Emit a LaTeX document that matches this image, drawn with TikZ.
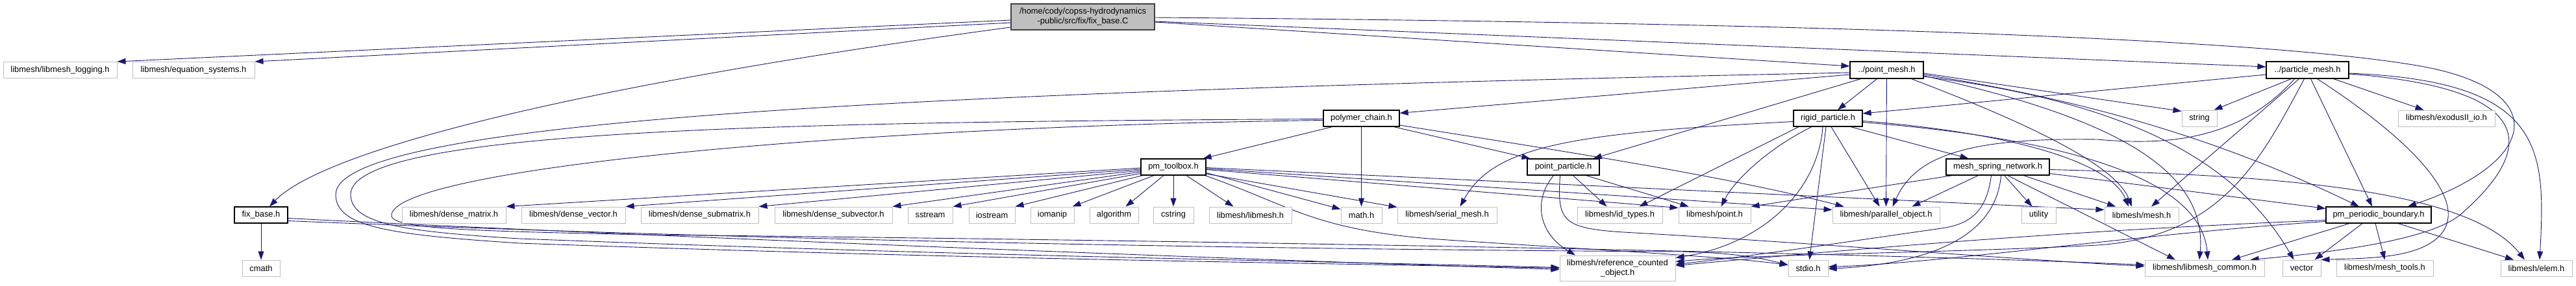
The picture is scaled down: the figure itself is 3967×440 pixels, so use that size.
\documentclass[tikz,border=0pt]{standalone}
\usepackage{fontspec}
\setmainfont{Liberation Sans}
\usetikzlibrary{arrows.meta}
\pgfdeclarelayer{bg}
\pgfsetlayers{bg,main}
\definecolor{edgec}{HTML}{191970}
\definecolor{leafc}{HTML}{BFBFBF}
\definecolor{mainfill}{HTML}{BFBFBF}
\definecolor{mainborder}{HTML}{404040}
\begin{document}
\begin{tikzpicture}[x=1pt,y=-1pt,
  box/.style={rectangle, inner sep=0pt, minimum height=25pt, font=\fontsize{12.9}{15}\selectfont, fill=white, align=center},
  leaf/.style={box, draw=leafc, line width=1pt},
  inner/.style={box, draw=black, line width=1.2pt},
  root/.style={box, draw=mainborder, fill=mainfill, line width=1.3pt, minimum height=40pt},
  e/.style={draw=edgec, line width=0.9pt, -{Triangle[length=13pt,width=9pt]}}]
\useasboundingbox (0,0) rectangle (3967,440);
\begin{pgfonlayer}{bg}
\fill[white] (0,0) rectangle (3967,440);
\end{pgfonlayer}
% nodes
\node[root, minimum width=221pt] (main) at (1667.5,26) {/home/cody/copss-hydrodynamics\\-public/src/fix/fix\_base.C};
\node[leaf, minimum width=175pt] (logging) at (92.5,108) {libmesh/libmesh\_logging.h};
\node[leaf, minimum width=188pt] (eqsys) at (298,108) {libmesh/equation\_systems.h};
\node[inner, minimum width=82pt] (fixbase) at (402,331.5) {fix\_base.h};
\node[leaf, minimum width=58pt] (cmath) at (402,413.5) {cmath};
\node[leaf, minimum width=160pt] (dmatrix) at (699,331.5) {libmesh/dense\_matrix.h};
\node[leaf, minimum width=160pt] (dvector) at (883,331.5) {libmesh/dense\_vector.h};
\node[leaf, minimum width=181pt] (dsubmatrix) at (1077.5,331.5) {libmesh/dense\_submatrix.h};
\node[leaf, minimum width=181pt] (dsubvector) at (1283.5,331.5) {libmesh/dense\_subvector.h};
\node[leaf, minimum width=69pt] (sstream) at (1432.5,331.5) {sstream};
\node[leaf, minimum width=71pt] (iostream) at (1527.5,331.5) {iostream};
\node[leaf, minimum width=67pt] (iomanip) at (1620.5,331.5) {iomanip};
\node[leaf, minimum width=75pt] (algorithm) at (1715.5,331.5) {algorithm};
\node[leaf, minimum width=62pt] (cstring) at (1807,331.5) {cstring};
\node[leaf, minimum width=127pt] (libmeshh) at (1925.5,331.5) {libmesh/libmesh.h};
\node[inner, minimum width=100pt] (pmtoolbox) at (1807,257.5) {pm\_toolbox.h};
\node[inner, minimum width=117pt] (polymer) at (2096.5,182.5) {polymer\_chain.h};
\node[inner, minimum width=111pt] (pointparticle) at (2407.5,257.5) {point\_particle.h};
\node[leaf, minimum width=63pt] (mathh) at (2096.5,331.5) {math.h};
\node[leaf, minimum width=153pt] (serialmesh) at (2228.5,331.5) {libmesh/serial\_mesh.h};
\node[leaf, minimum width=131pt] (idtypes) at (2494.5,331.5) {libmesh/id\_types.h};
\node[leaf, minimum width=178pt, minimum height=39pt] (refcounted) at (2491,413.5) {libmesh/reference\_counted\\\_object.h};
\node[inner, minimum width=113pt, minimum height=26pt] (pointmesh) at (2905.5,108) {../point\_mesh.h};
\node[inner, minimum width=106pt] (rigid) at (2815,182.5) {rigid\_particle.h};
\node[leaf, minimum width=111pt] (pointh) at (2640.5,331.5) {libmesh/point.h};
\node[leaf, minimum width=165pt] (parallel) at (2904.5,331.5) {libmesh/parallel\_object.h};
\node[leaf, minimum width=61pt] (stdio) at (2784.5,413.5) {stdio.h};
\node[inner, minimum width=159pt] (msn) at (3076.5,257.5) {mesh\_spring\_network.h};
\node[leaf, minimum width=54pt] (string) at (3387,182.5) {string};
\node[leaf, minimum width=53pt] (utility) at (3139.5,331.5) {utility};
\node[leaf, minimum width=114pt] (meshh) at (3298,331.5) {libmesh/mesh.h};
\node[leaf, minimum width=184pt] (common) at (3395,413.5) {libmesh/libmesh\_common.h};
\node[inner, minimum width=127pt, minimum height=26pt] (particlemesh) at (3553.5,108) {../particle\_mesh.h};
\node[leaf, minimum width=149pt] (exodus) at (3767.5,182.5) {libmesh/exodusII\_io.h};
\node[inner, minimum width=162pt] (pmpb) at (3663,331.5) {pm\_periodic\_boundary.h};
\node[leaf, minimum width=59pt] (vector) at (3544.5,413.5) {vector};
\node[leaf, minimum width=149pt] (meshtools) at (3672.5,413.5) {libmesh/mesh\_tools.h};
\node[leaf, minimum width=110pt] (elem) at (3906,413.5) {libmesh/elem.h};
% edges
\begin{pgfonlayer}{bg}
% main
\draw[e] ([yshift=-5pt]main.west) -- (logging.north east);
\draw[e] ([yshift=-9pt]main.west) -- (eqsys.north east);
\draw[e] ([yshift=-16pt]main.west) .. controls (900,130) and (500,230) .. ([xshift=13pt]fixbase.north);
\draw[e] ([yshift=-8pt]main.east) -- ([yshift=6pt]pointmesh.west);
\draw[e] ([yshift=-7pt]main.east) -- ([yshift=5pt]particlemesh.west);
\draw[e] ([yshift=-1pt]main.east) .. controls (2800,35) and (3500,60) .. (3733,103) .. controls (3930,140) and (3910,250) .. ([xshift=45pt]pmpb.north);
% fix_base
\draw[e] (fixbase) -- (cmath);
\draw[e] ([yshift=-5pt]fixbase.east) .. controls (700,350) and (1600,390) .. ([yshift=-2pt]refcounted.west);
\draw[e] ([yshift=-9pt]fixbase.east) .. controls (1200,372) and (2000,385) .. (2590,388) .. controls (2680,390) and (2720,400) .. ([yshift=5pt]stdio.west);
% pm_toolbox
\draw[e] ([yshift=-1.5pt]pmtoolbox.west) -- (dmatrix.north east);
\draw[e] ([yshift=-3.5pt]pmtoolbox.west) -- (dvector.north east);
\draw[e] ([yshift=-5.5pt]pmtoolbox.west) -- (dsubmatrix.north east);
\draw[e] ([yshift=-7.5pt]pmtoolbox.west) -- (dsubvector.north east);
\draw[e] ([yshift=-10pt]pmtoolbox.west) -- (sstream.north east);
\draw[e] ([xshift=3pt]pmtoolbox.south west) -- (iostream.north east);
\draw[e] ([xshift=-30pt]pmtoolbox.south) -- ([xshift=-3pt]iomanip.north east);
\draw[e] ([xshift=-15pt]pmtoolbox.south) -- ([xshift=18pt]algorithm.north);
\draw[e] (pmtoolbox) -- (cstring);
\draw[e] ([xshift=20pt]pmtoolbox.south) -- ([xshift=-26pt]libmeshh.north);
\draw[e] ([yshift=-9pt]pmtoolbox.east) -- ([yshift=-4pt]mathh.north west);
\draw[e] ([yshift=-10.5pt]pmtoolbox.east) -- ([yshift=-1pt]serialmesh.north west);
\draw[e] ([yshift=-4pt]pmtoolbox.east) -- ([yshift=-2pt]pointh.north west);
\draw[e] ([yshift=-2.5pt]pmtoolbox.east) -- ([yshift=8pt]parallel.west);
\draw[e] ([yshift=-1pt]pmtoolbox.east) -- ([yshift=8pt]meshh.west);
\draw[e] ([xshift=-2pt]pmtoolbox.south east) .. controls (1990,318) and (2020,352) .. (2200,368) .. controls (2450,385) and (2650,395) .. ([yshift=5pt]stdio.west);
% polymer_chain
\draw[e] ([xshift=-45pt]polymer.south) -- ([xshift=-5pt]pmtoolbox.north east);
\draw[e] (polymer) -- (mathh);
\draw[e] ([xshift=50pt]polymer.south) -- ([xshift=5pt]pointparticle.north west);
\draw[e] ([yshift=-10.5pt]polymer.east) .. controls (2400,232) and (2650,270) .. ([xshift=18pt]parallel.north west);
\draw[e] ([yshift=-1pt]polymer.west) .. controls (1200,188) and (540,200) .. (540,300) .. controls (540,345) and (620,357) .. (800,368) .. controls (1500,395) and (2000,402) .. ([yshift=1pt]refcounted.west);
\draw[e] ([yshift=-3pt]polymer.west) .. controls (1300,195) and (620,260) .. (603,330) .. controls (597,352) and (700,356) .. (1000,362) .. controls (2200,375) and (3000,395) .. ([yshift=5pt]common.west);
% point_mesh
\draw[e] ([yshift=-4pt]pointmesh.west) .. controls (1500,140) and (517,180) .. (517,300) .. controls (517,350) and (600,362) .. (800,375) .. controls (1500,400) and (2000,405) .. (refcounted.west);
\draw[e] ([yshift=-7pt]pointmesh.west) -- ([yshift=-5pt]polymer.north east);
\draw[e] ([xshift=-40pt]pointmesh.south) -- ([xshift=-10pt]pointparticle.north east);
\draw[e] ([xshift=-15pt]pointmesh.south) -- ([xshift=15pt]rigid.north);
\draw[e] (pointmesh) -- (parallel);
\draw[e] ([yshift=-5pt]pointmesh.east) -- ([yshift=-2pt]string.north west);
\draw[e] ([yshift=-7pt]pointmesh.east) .. controls (3250,160) and (3450,230) .. ([xshift=-30pt]pmpb.north);
\draw[e] ([yshift=-9pt]pointmesh.east) .. controls (3250,180) and (3400,260) .. ([xshift=-8pt]common.north);
\draw[e] ([xshift=38pt]pointmesh.south) .. controls (3150,200) and (3260,260) .. ([xshift=-15pt]meshh.north);
\draw[e] ([yshift=-10pt]pointmesh.east) .. controls (3300,160) and (3450,260) .. ([xshift=-12pt]vector.north);
% rigid_particle
\draw[e] ([yshift=-5pt]rigid.west) .. controls (2420,205) and (2300,225) .. ([xshift=20pt]serialmesh.north);
\draw[e] ([xshift=-45pt]rigid.south) -- ([xshift=30pt]idtypes.north);
\draw[e] ([xshift=-25pt]rigid.south) .. controls (2720,230) and (2670,280) .. ([xshift=10pt]pointh.north);
\draw[e] ([xshift=-8pt]rigid.south) .. controls (2800,290) and (2720,375) .. ([yshift=-4pt]refcounted.north east);
\draw[e] ([xshift=-3pt]rigid.south) -- ([xshift=2pt]stdio.north);
\draw[e] ([xshift=5pt]rigid.south) -- ([xshift=-10pt]parallel.north);
\draw[e] ([xshift=35pt]rigid.south) -- ([xshift=-45pt]msn.north);
\draw[e] ([yshift=-4pt]rigid.east) .. controls (3100,205) and (3250,250) .. ([xshift=-20pt]meshh.north);
\draw[e] ([yshift=-6pt]rigid.east) .. controls (3200,215) and (3390,280) .. ([xshift=5pt]common.north);
% particle_mesh
\draw[e] ([yshift=-7pt]particlemesh.west) -- ([yshift=7.5pt]rigid.east);
\draw[e] ([xshift=-25pt]particlemesh.south) -- ([xshift=-5pt]string.north east);
\draw[e] ([xshift=-20pt]particlemesh.south) .. controls (3450,215) and (3340,225) .. (3230,215) .. controls (3030,212) and (2950,240) .. ([xshift=10pt]parallel.north);
\draw[e] ([xshift=-13pt]particlemesh.south) -- ([xshift=15pt]meshh.north);
\draw[e] ([xshift=-5pt]particlemesh.south) .. controls (3480,250) and (3420,365) .. (3230,378) .. controls (3000,390) and (2700,392) .. ([yshift=10pt]refcounted.east);
\draw[e] ([xshift=5pt]particlemesh.south) -- ([xshift=-10pt]pmpb.north);
\draw[e] ([xshift=15pt]particlemesh.south) .. controls (3720,220) and (3800,310) .. (3760,360) .. controls (3728,400) and (3640,398) .. (vector.north east);
\draw[e] ([xshift=40pt]particlemesh.south) -- ([xshift=-35pt]exodus.north);
\draw[e] ([yshift=-5pt]particlemesh.east) .. controls (3920,125) and (3920,230) .. ([xshift=5pt]elem.north);
\draw[e] ([yshift=-6pt]particlemesh.east) .. controls (3960,140) and (3870,260) .. (3790,330) .. controls (3740,374) and (3560,392) .. ([xshift=-22pt]common.north east);
% pm_periodic_boundary
\draw[e] ([yshift=-8pt]pmpb.west) .. controls (3200,355) and (2900,380) .. ([yshift=4pt]refcounted.east);
\draw[e] ([yshift=-10pt]pmpb.west) .. controls (3300,360) and (3000,405) .. ([yshift=2pt]stdio.east);
\draw[e] ([xshift=-45pt]pmpb.south) -- ([xshift=42pt]common.north);
\draw[e] ([xshift=-25pt]pmpb.south) -- ([xshift=20pt]vector.north);
\draw[e] ([xshift=-5pt]pmpb.south) -- (meshtools.north);
\draw[e] ([xshift=30pt]pmpb.south) -- ([xshift=-35pt]elem.north);
% mesh_spring_network
\draw[e] ([xshift=-70pt]msn.south) -- (pointh.north east);
\draw[e] ([xshift=-30pt]msn.south) -- ([xshift=40pt]parallel.north);
\draw[e] ([xshift=-10pt]msn.south) .. controls (3060,320) and (3040,345) .. (2990,352) .. controls (2850,372) and (2700,395) .. ([yshift=6pt]refcounted.east);
\draw[e] ([xshift=5pt]msn.south) .. controls (3075,350) and (3000,405) .. ([yshift=-1pt]stdio.east);
\draw[e] ([xshift=10pt]msn.south) -- ([xshift=-10pt]utility.north);
\draw[e] ([xshift=40pt]msn.south) -- ([xshift=-40pt]meshh.north);
\draw[e] ([xshift=15pt]msn.south) -- ([xshift=-45pt]common.north);
\draw[e] ([yshift=-10pt]msn.east) -- ([yshift=10pt]pmpb.west);
\draw[e] ([yshift=-4pt]msn.east) .. controls (3500,270) and (3800,290) .. ([xshift=-18pt]elem.north);
% point_particle
\draw[e] ([xshift=-15pt]pointparticle.south) .. controls (2360,310) and (2370,360) .. ([xshift=-65pt]refcounted.north);
\draw[e] ([xshift=15pt]pointparticle.south) -- ([xshift=-20pt]idtypes.north);
\draw[e] ([xshift=35pt]pointparticle.south) -- ([xshift=-40pt]pointh.north);
\draw[e] ([xshift=-5pt]pointparticle.south) .. controls (2398,340) and (2405,352) .. (2500,358) .. controls (2800,375) and (3100,400) .. ([yshift=3pt]common.west);
\end{pgfonlayer}
\end{tikzpicture}
\end{document}
